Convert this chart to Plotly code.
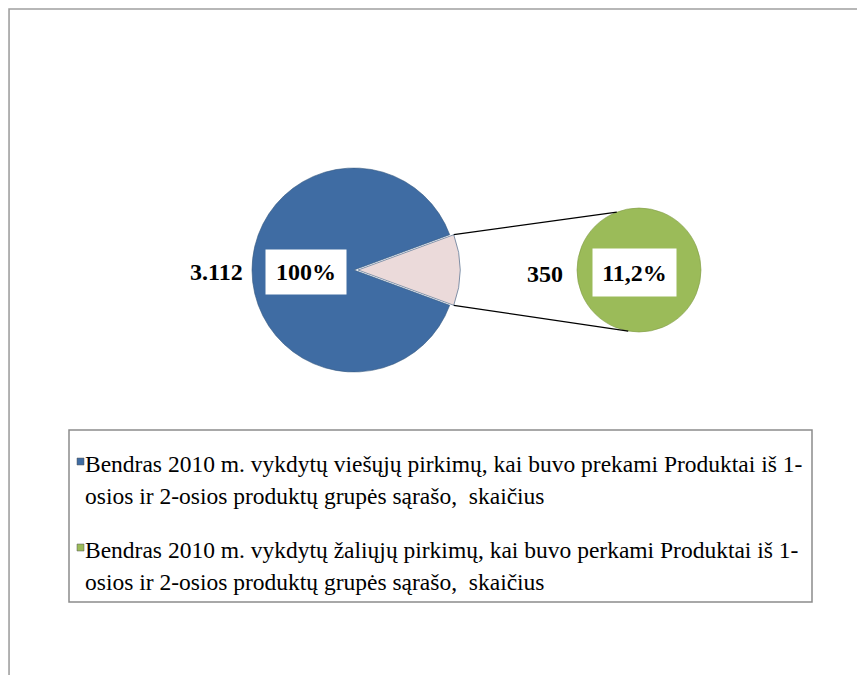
import math
import plotly.graph_objects as go

# data
total_count = 3112
green_count = 350
series_names = [
    "Bendras 2010 m. vykdytų viešųjų pirkimų, kai buvo prekami Produktai iš 1-osios ir 2-osios produktų grupės sąrašo, skaičius",
    "Bendras 2010 m. vykdytų žaliųjų pirkimų, kai buvo perkami Produktai iš 1-osios ir 2-osios produktų grupės sąrašo, skaičius",
]
legend_lines = [
    ["Bendras 2010 m. vykdytų viešųjų pirkimų, kai buvo prekami Produktai iš 1-",
     "osios ir 2-osios produktų grupės sąrašo,  skaičius"],
    ["Bendras 2010 m. vykdytų žaliųjų pirkimų, kai buvo perkami Produktai iš 1-",
     "osios ir 2-osios produktų grupės sąrašo,  skaičius"],
]
colors = ["#3F6CA3", "#EBDADA", "#9BBB59"]

W, H = 865, 675
OFF = 8  # page body margin in the browser


def px(x):
    return (x - OFF) / W


def py(y):
    return 1 - (y - OFF) / H


share = green_count / total_count
pull = 0.04
# big pie geometry (pixels in the window)
cx1, cy1, r1 = 354, 270, 102
R1 = r1 * (1 + pull)
# small pie geometry
cx2, cy2, r2 = 639, 270, 62

fig = go.Figure()
fig.add_trace(go.Pie(
    values=[green_count, total_count - green_count],
    labels=[series_names[1] + " ", series_names[0]],
    marker=dict(colors=[colors[1], colors[0]], line=dict(color="#35597f", width=0.6)),
    pull=[pull, 0],
    sort=False,
    direction="clockwise",
    rotation=90 - share * 360 / 2,
    textinfo="none",
    hoverinfo="label+value",
    showlegend=False,
    domain=dict(x=[px(cx1 - R1), px(cx1 + R1)], y=[py(cy1 + R1), py(cy1 - R1)]),
))
fig.add_trace(go.Pie(
    values=[green_count],
    labels=[series_names[1]],
    marker=dict(colors=[colors[2]], line=dict(color="#7f9a45", width=0.6)),
    textinfo="none",
    hoverinfo="label+value",
    showlegend=False,
    domain=dict(x=[px(cx2 - r2), px(cx2 + r2)], y=[py(cy2 + r2), py(cy2 - r2)]),
))

# connector lines from wedge edges to small pie
half = math.radians(share * 360 / 2)
pull_px = pull * r1
for sgn, ang in [(1, 111), (-1, -100)]:
    x0 = cx1 + pull_px + r1 * math.cos(half)
    y0 = cy1 - sgn * r1 * math.sin(half)
    x1 = cx2 + r2 * math.cos(math.radians(ang))
    y1 = cy2 - r2 * math.sin(math.radians(ang))
    fig.add_shape(type="line", xref="paper", yref="paper",
                  x0=px(x0), y0=py(y0), x1=px(x1), y1=py(y1),
                  line=dict(color="black", width=1.3))

# outer frame (runs off the right and bottom edges) and legend box
fig.add_shape(type="rect", xref="paper", yref="paper",
              x0=0.0012, y0=-0.05, x1=1.05, y1=0.9985,
              line=dict(color="#a0a0a0", width=1.6))
fig.add_shape(type="rect", xref="paper", yref="paper",
              x0=px(69), y0=py(602), x1=px(812), y1=py(430),
              line=dict(color="#8c8c8c", width=1.5))

serif = "Liberation Serif, Times New Roman, serif"
label_font = dict(family=serif, size=24, color="black")

fmt_total = f"{total_count:,}".replace(",", ".")
fmt_share = f"{share * 100:.1f}%".replace(".", ",")

labels = [
    (216, 272, "<b>%s</b>" % fmt_total, None),
    (306, 272, "<b>100%</b>", (78, 42)),
    (545, 274, "<b>%d</b>" % green_count, None),
    (634, 272, "<b>%s</b>" % fmt_share, (81, 45)),
]
for x, y, txt, box in labels:
    kw = dict(bgcolor="white", width=box[0], height=box[1]) if box else {}
    fig.add_annotation(x=px(x), y=py(y), xref="paper", yref="paper", text=txt,
                       xanchor="center", yanchor="middle",
                       showarrow=False, font=label_font, **kw)

# legend entries
line_y = [[464, 496], [550, 582]]
marker_colors = [colors[0], colors[2]]
for i, lines in enumerate(legend_lines):
    my = line_y[i][0] - 6
    fig.add_shape(type="rect", xref="paper", yref="paper",
                  x0=px(77), x1=px(84), y0=py(my + 7), y1=py(my),
                  fillcolor=marker_colors[i], line=dict(color="#555555", width=0.5))
    for j, txt in enumerate(lines):
        fig.add_annotation(x=px(83), y=py(line_y[i][j]), xref="paper", yref="paper",
                           xanchor="left", yanchor="middle", text=txt, showarrow=False,
                           font=dict(family=serif, size=23.5, color="black"))

fig.update_layout(
    width=W, height=H,
    margin=dict(l=0, r=0, t=0, b=0),
    paper_bgcolor="white",
    plot_bgcolor="white",
)
fig.write_html("out.html")
